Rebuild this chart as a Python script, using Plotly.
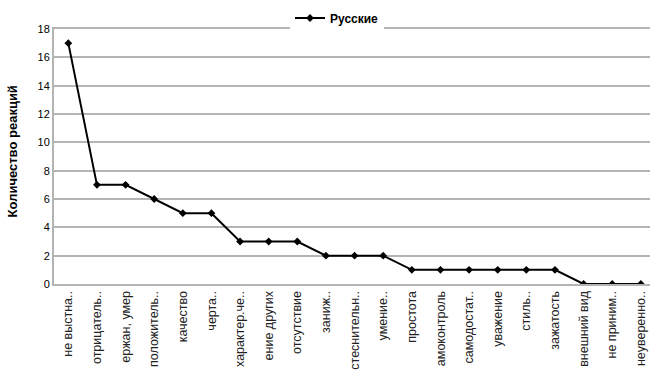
import plotly.graph_objects as go

categories = [
    "не выстна..", "отрицатель..", "ержан, умер", "положитель..", "качество",
    "черта..", "характер.че..", "ение других", "отсутствие", "заниж..",
    "стеснительн..", "умение..", "простота", "амоконтроль", "самодостат..",
    "уважение", "стиль..", "зажатость", "внешний вид", "не приним..",
    "неуверенно..",
]
values = [17, 7, 7, 6, 5, 5, 3, 3, 3, 2, 2, 2, 1, 1, 1, 1, 1, 1, 0, 0, 0]
series_name = "Русские"
y_ticks = [0, 2, 4, 6, 8, 10, 12, 14, 16, 18]

W, H = 650, 376
L, R, T, B = 54, 0, 29, 92
font = "Liberation Sans, Arial, sans-serif"
grid = "#b4b4b4"

fig = go.Figure()
fig.add_trace(go.Scatter(
    x=categories, y=values, name=series_name, mode="lines+markers",
    line=dict(color="#000000", width=2),
    marker=dict(symbol="diamond", size=6, color="#000000"),
))

plot_h = H - T - B
fig.update_layout(
    width=W, height=H,
    margin=dict(l=L, r=R, t=T, b=B, autoexpand=False),
    paper_bgcolor="white", plot_bgcolor="white",
    font=dict(family=font, size=11, color="#000000"),
    showlegend=True,
    legend=dict(
        x=(337 - L) / (W - L - R), y=1 + 11 / plot_h,
        xanchor="center", yanchor="middle",
        orientation="h", bgcolor="white",
        font=dict(family=font, size=12, color="#000000", weight="bold"),
        itemwidth=30,
    ),
    xaxis=dict(
        type="category", range=[-0.5, 20.32],
        showline=True, linecolor=grid, linewidth=2, mirror=True,
        showgrid=False, ticks="", tickangle=-90,
        tickfont=dict(family=font, size=12.5, color="#222222"),
        automargin=False,
    ),
    yaxis=dict(
        range=[0, 18], tickvals=y_ticks,
        showline=True, linecolor=grid, linewidth=2,
        showgrid=True, gridcolor=grid, gridwidth=2,
        ticks="", tickfont=dict(family=font, size=11),
        automargin=False, zeroline=False,
    ),
    annotations=[dict(
        text="<b>Количество реакций</b>", textangle=-90,
        xref="paper", yref="paper",
        x=(12 - L) / (W - L - R), y=0.52,
        xanchor="center", yanchor="middle", showarrow=False,
        font=dict(family=font, size=13, color="#000000"),
    )],
)

fig.write_html("out.html")
